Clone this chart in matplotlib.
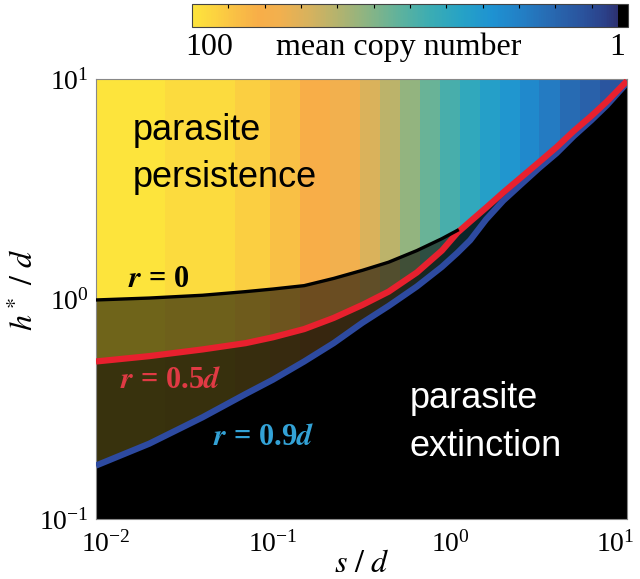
import numpy as np
import matplotlib
matplotlib.use("Agg")
import matplotlib.pyplot as plt
from matplotlib.colors import LinearSegmentedColormap, LogNorm
from matplotlib.transforms import ScaledTranslation


# s/d grid shared by the three threshold curves
s_d = [0.01, 0.02, 0.04, 0.07, 0.1, 0.15, 0.22, 0.32, 0.45, 0.65, 0.9, 1.1,
       1.3, 1.6, 2.0, 2.5, 3.2, 4.0, 5.0, 6.3, 7.7, 10.0]
# r = 0 stops where it meets the others (s/d ~ 1.1)
h_r0 = [0.99, 1.01, 1.04, 1.08, 1.11, 1.15, 1.24, 1.35, 1.47, 1.66, 1.88, 2.05]
h_r05 = [0.52, 0.55, 0.59, 0.63, 0.67, 0.73, 0.82, 0.94, 1.08, 1.32, 1.66, 2.0,
         2.25, 2.6, 3.05, 3.55, 4.2, 4.9, 5.8, 6.8, 7.9, 9.8]
h_r09 = [0.175, 0.22, 0.29, 0.37, 0.43, 0.52, 0.63, 0.78, 0.93, 1.14, 1.40, 1.62,
         1.85, 2.3, 2.8, 3.3, 3.95, 4.6, 5.5, 6.5, 7.6, 9.6]

# background columns: mean copy number vs s/d
col_edges = [0.01, 0.0246, 0.061, 0.096, 0.142, 0.21, 0.31, 0.40, 0.52, 0.68,
             0.88, 1.14, 1.47, 1.91, 2.5, 3.2, 4.2, 5.4, 7.0, 10.0]
copy_number = [100, 87, 76, 63, 50, 40, 30, 23, 16.6, 12, 9.1, 6.9, 5.5, 4.6,
               3.6, 2.9, 2.3, 2.0, 1.66]

# parula-like map, low (1) -> high (100), with black at the very bottom
cmap_stops = [
    (0.0, "#000000"), (0.02, "#000000"), (0.021, "#2c3070"), (0.05, "#2b4088"),
    (0.10, "#2a529c"), (0.17, "#2868b0"), (0.24, "#237ec4"), (0.31, "#1e92d2"),
    (0.38, "#26a2c6"), (0.45, "#3aacb4"), (0.52, "#5cb29e"), (0.59, "#86b486"),
    (0.66, "#b0b370"), (0.73, "#d6b25e"), (0.80, "#f2b04e"), (0.85, "#f8ae48"),
    (0.90, "#f9bf45"), (0.95, "#fcd340"), (1.0, "#fde43c"),
]
cmap = LinearSegmentedColormap.from_list("parula_like", cmap_stops)
norm = LogNorm(vmin=1, vmax=100)

plt.rcParams["mathtext.fontset"] = "stix"
plt.rcParams["font.family"] = "Liberation Serif"

fig = plt.figure(figsize=(6.4, 5.79), dpi=100)
ax = fig.add_axes([0.15, 0.1036, 0.8297, 0.76])

mesh = ax.pcolormesh(col_edges, [0.1, 10], np.array([copy_number]),
                     cmap=cmap, norm=norm, shading="flat", zorder=0)

n0 = len(h_r0)
ax.fill_between(s_d[:n0], h_r0, h_r05[:n0], color="black", alpha=0.56, lw=0, zorder=1)
ax.fill_between(s_d, h_r05, h_r09, color="black", alpha=0.78, lw=0, zorder=1)
ax.fill_between(s_d, 0.1, h_r09, color="black", lw=0, zorder=2)

ax.plot(s_d, h_r09, color="#2d4aa0", lw=4.5, zorder=3, solid_capstyle="butt")
ax.plot(s_d, h_r05, color="#e8202e", lw=4.5, zorder=4, solid_capstyle="butt")
ax.plot(s_d[:n0], h_r0, color="black", lw=2.4, zorder=5)

ax.set_xscale("log")
ax.set_yscale("log")
ax.set_xlim(0.01, 10)
ax.set_ylim(0.1, 10)
ax.set_xticks([0.01, 0.1, 1, 10])
ax.set_yticks([0.1, 1, 10])
ax.minorticks_off()
ax.tick_params(length=0, labelsize=20)
ax.tick_params(axis="x", pad=9)
ax.tick_params(axis="y", pad=5)
for sp in ax.spines.values():
    sp.set_color("#888888")
    sp.set_linewidth(0.8)

# nudge the end x labels inward like the reference
fig.canvas.draw()
xlabels = ax.get_xticklabels()
xlabels[0].set_transform(xlabels[0].get_transform() + ScaledTranslation(0.10, 0, fig.dpi_scale_trans))
xlabels[-1].set_transform(xlabels[-1].get_transform() + ScaledTranslation(-0.12, 0, fig.dpi_scale_trans))

ax.set_xlabel(r"$s\ /\ d$", fontsize=23)
ax.xaxis.set_label_coords(0.5, -0.07)
ax.set_ylabel(r"$h^*\ /\ d$", fontsize=23)
ax.yaxis.set_label_coords(-0.105, 0.52)

sans = "Liberation Sans"
ax.text(0.070, 0.861, "parasite", transform=ax.transAxes, fontsize=26,
        family=sans, color="black", va="baseline")
ax.text(0.070, 0.755, "persistence", transform=ax.transAxes, fontsize=26,
        family=sans, color="black", va="baseline")
ax.text(0.591, 0.252, "parasite", transform=ax.transAxes, fontsize=26,
        family=sans, color="white", va="baseline")
ax.text(0.591, 0.143, "extinction", transform=ax.transAxes, fontsize=26,
        family=sans, color="white", va="baseline")

ax.text(0.060, 0.527, r"$\mathbfit{r}$ = 0", transform=ax.transAxes, fontsize=22,
        weight="bold", color="black", va="baseline", zorder=6)
ax.text(0.045, 0.298, r"$\mathbfit{r}$ = 0.5$\mathbfit{d}$", transform=ax.transAxes,
        fontsize=22, weight="bold", color="#e03a44", va="baseline", zorder=6)
ax.text(0.220, 0.168, r"$\mathbfit{r}$ = 0.9$\mathbfit{d}$", transform=ax.transAxes,
        fontsize=22, weight="bold", color="#33a2d6", va="baseline", zorder=6)

# colour bar, 100 on the left
cax = fig.add_axes([0.30, 0.9534, 0.681, 0.0397])
cb = fig.colorbar(mesh, cax=cax, orientation="horizontal")
cax.invert_xaxis()
cax.xaxis.set_ticks_position("top")
cb.set_ticks(np.logspace(0, 2, 13)[1:-1])
cax.minorticks_off()
cax.tick_params(direction="in", length=3, width=0.8, labeltop=False, labelbottom=False)
cb.outline.set_edgecolor("#444444")
cb.outline.set_linewidth(0.8)
cax.text(0.04, -0.25, "100", transform=cax.transAxes, fontsize=23, ha="center", va="top")
cax.text(0.475, -0.25, "mean copy number", transform=cax.transAxes, fontsize=23,
         ha="center", va="top")
cax.text(0.975, -0.25, "1", transform=cax.transAxes, fontsize=23, ha="center", va="top")

fig.savefig("out.png", dpi=100)
